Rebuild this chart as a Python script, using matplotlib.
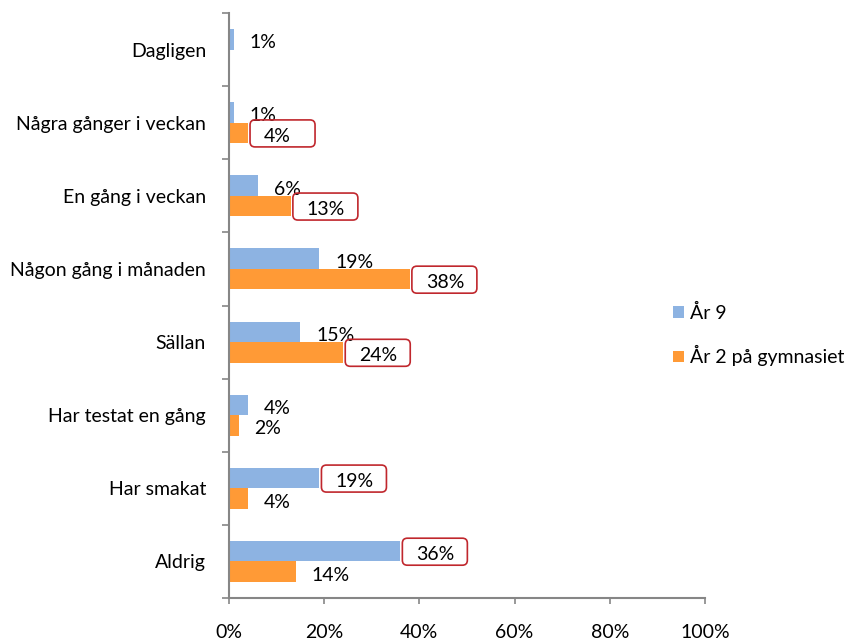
import numpy as np
import matplotlib
matplotlib.use("Agg")
import matplotlib.pyplot as plt
import matplotlib.transforms as mtransforms
from matplotlib.patches import FancyBboxPatch

categories = ["Dagligen", "Några gånger i veckan", "En gång i veckan",
              "Någon gång i månaden", "Sällan", "Har testat en gång",
              "Har smakat", "Aldrig"]
ar9 = [1, 1, 6, 19, 15, 4, 19, 36]
gymn = [0, 4, 13, 38, 24, 2, 4, 14]
series_names = ["År 9", "År 2 på gymnasiet"]
# labels that were circled in red in the original
boxed_ar9 = [False, False, False, False, False, False, True, True]
boxed_gymn = [False, True, True, True, True, False, False, False]
xticks = [0, 20, 40, 60, 80, 100]

BLUE = "#8DB3E2"
ORANGE = "#FF9A36"
AXIS = "#868686"
FS = 14

plt.rcParams["font.family"] = ["Lato", "DejaVu Sans"]

fig = plt.figure(figsize=(8.48, 6.43), dpi=100)
ax = fig.add_axes([229 / 848, 45 / 643, 476 / 848, 585 / 643])

y = np.arange(len(categories))
h = 0.28
b1 = ax.barh(y - h / 2, ar9, height=h, color=BLUE, label=series_names[0])
b2 = ax.barh(y + h / 2, gymn, height=h, color=ORANGE, label=series_names[1])

ax.set_xlim(0, 100)
ax.set_ylim(len(categories) - 0.5, -0.5)


def add_label(val, yc, boxed):
    if val == 0:
        return
    ax.annotate(f"{val}%", xy=(val, yc), xytext=(11.5, -2.5),
                textcoords="offset points", ha="left", va="center",
                fontsize=FS, color="black")
    if boxed:
        trans = fig.dpi_scale_trans + mtransforms.ScaledTranslation(
            val, yc, ax.transData)
        box = FancyBboxPatch((0.02, -0.14), 0.65, 0.27,
                             boxstyle="round,pad=0,rounding_size=0.05",
                             transform=trans, fill=False,
                             edgecolor="#C0272D", linewidth=1.2,
                             clip_on=False)
        fig.add_artist(box)


for i in range(len(categories)):
    add_label(ar9[i], y[i] - h / 2, boxed_ar9[i])
    add_label(gymn[i], y[i] + h / 2, boxed_gymn[i])

# category boundaries carry the tick marks, names sit in between
ax.set_yticks(np.arange(len(categories) + 1) - 0.5)
ax.set_yticklabels([])
ax.set_yticks(y, minor=True)
ax.set_yticklabels(categories, minor=True, fontsize=FS)
ax.tick_params(axis="y", which="minor", length=0, pad=16.5)
ax.tick_params(axis="y", which="major", length=5, color=AXIS, width=1.2)

ax.set_xticks(xticks)
ax.set_xticklabels([f"{t}%" for t in xticks], fontsize=FS)
ax.tick_params(axis="x", length=4.5, color=AXIS, width=1.2, pad=14.5)

for s in ["top", "right"]:
    ax.spines[s].set_visible(False)
for s in ["left", "bottom"]:
    ax.spines[s].set_color(AXIS)
    ax.spines[s].set_linewidth(1.5)

fig.legend(handles=[b1, b2], loc="upper left",
           bbox_to_anchor=(673 / 848, 1 - 304 / 643), frameon=False,
           fontsize=FS, handlelength=0.55, handleheight=0.55,
           handletextpad=0.3, labelspacing=1.2, borderpad=0,
           borderaxespad=0)

fig.savefig("out.png", dpi=100)
